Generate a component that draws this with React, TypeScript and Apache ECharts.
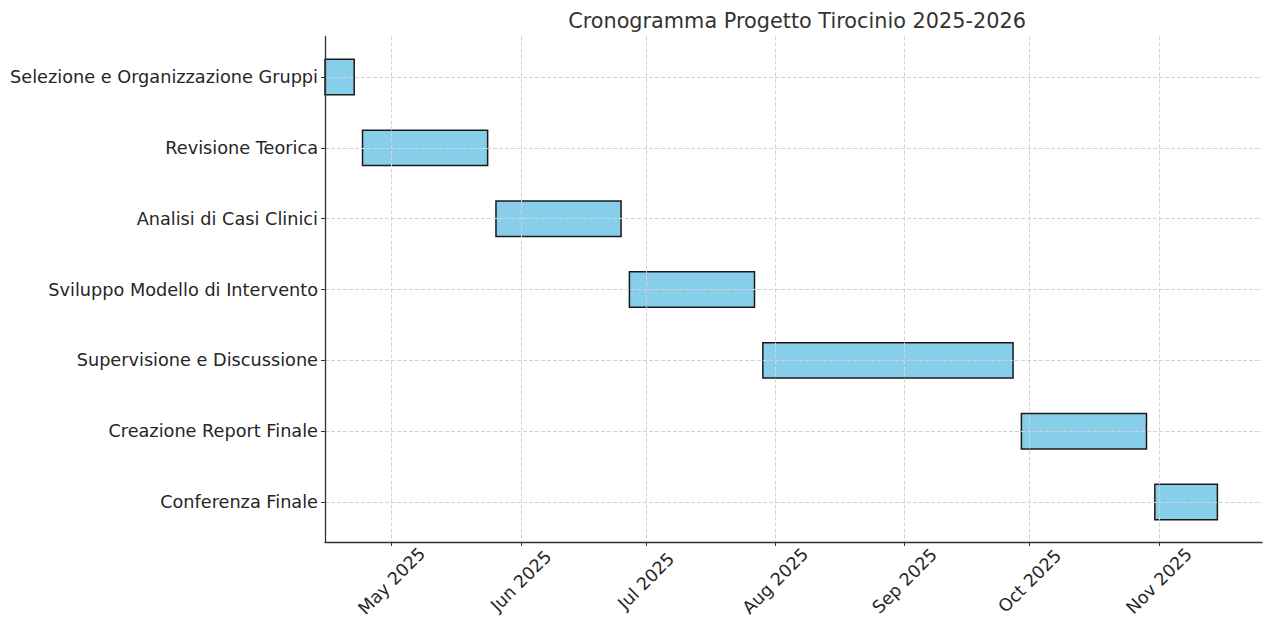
import React, { useEffect, useRef } from "react";
import * as echarts from "echarts";

const TASKS = [
  "Selezione e Organizzazione Gruppi",
  "Revisione Teorica",
  "Analisi di Casi Clinici",
  "Sviluppo Modello di Intervento",
  "Supervisione e Discussione",
  "Creazione Report Finale",
  "Conferenza Finale",
];
const STARTS = ["2025-04-15", "2025-04-24", "2025-05-26", "2025-06-27", "2025-07-29", "2025-09-29", "2025-10-31"];
const ENDS = ["2025-04-22", "2025-05-24", "2025-06-25", "2025-07-27", "2025-09-27", "2025-10-29", "2025-11-15"];
const MONTH_TICKS = ["2025-05-01", "2025-06-01", "2025-07-01", "2025-08-01", "2025-09-01", "2025-10-01", "2025-11-01"];
const MONTH_NAMES = ["Jan", "Feb", "Mar", "Apr", "May", "Jun", "Jul", "Aug", "Sep", "Oct", "Nov", "Dec"];
const TITLE = "Cronogramma Progetto Tirocinio 2025-2026";

const ts = (s: string) => {
  const [y, m, d] = s.split("-").map(Number);
  return Date.UTC(y, m - 1, d);
};

export default function App() {
  const ref = useRef<HTMLDivElement>(null);
  useEffect(() => {
    if (!ref.current) return;
    const chart = echarts.init(ref.current, null, { renderer: "svg" });
    const starts = STARTS.map(ts);
    const ends = ENDS.map(ts);
    const xMin = Math.min(...starts);
    const xMaxData = Math.max(...ends);
    const xMax = xMaxData + (xMaxData - xMin) * 0.05;
    const ticks = MONTH_TICKS.map(ts);
    const font = "DejaVu Sans";
    const textColor = "#262626";
    const spine = "#333333";
    const gridLine = { show: true, lineStyle: { color: "#d3d3d3", type: [4, 2] as any, width: 1 } };

    chart.setOption({
      animation: false,
      backgroundColor: "#ffffff",
      title: {
        text: TITLE,
        left: 792,
        top: 5,
        textAlign: "center",
        textStyle: { fontFamily: font, fontSize: 20.8, fontWeight: "normal", color: "#333333" },
      },
      grid: [
        { left: 325, right: 1, top: 36.5, bottom: 76, containLabel: false, outerBoundsMode: "none" },
        { left: 325, right: 1, top: 77, bottom: 116, containLabel: false, outerBoundsMode: "none" },
      ],
      xAxis: [
        {
          type: "value",
          gridIndex: 0,
          min: xMin,
          max: xMax,
          z: 5,
          axisLine: { show: true, lineStyle: { color: spine, width: 1.3 } },
          axisTick: { show: true, length: 4, lineStyle: { color: spine, width: 1 }, customValues: ticks },
          axisLabel: {
            customValues: ticks,
            rotate: 45,
            align: "center",
            verticalAlign: "middle",
            margin: 39,
            fontFamily: font,
            fontSize: 17.5,
            color: textColor,
            formatter: (v: number) => {
              const d = new Date(v);
              return MONTH_NAMES[d.getUTCMonth()] + " " + d.getUTCFullYear();
            },
          },
          splitLine: gridLine,
        },
        {
          type: "value",
          gridIndex: 1,
          min: xMin,
          max: xMax,
          show: false,
        },
      ],
      yAxis: [
        {
          type: "value",
          gridIndex: 0,
          min: 0,
          max: 1,
          z: 5,
          axisLine: { show: true, lineStyle: { color: spine, width: 1.3 } },
          axisTick: { show: false },
          axisLabel: { show: false },
          splitLine: { show: false },
        },
        {
          type: "category",
          gridIndex: 1,
          data: TASKS,
          inverse: true,
          boundaryGap: false,
          z: 5,
          axisLine: { show: false },
          axisTick: { show: true, length: 4, lineStyle: { color: spine, width: 1 } },
          axisLabel: { fontFamily: font, fontSize: 17.7, color: textColor, margin: 7 },
          splitLine: gridLine,
        },
      ],
      series: [
        {
          type: "custom",
          xAxisIndex: 1,
          yAxisIndex: 1,
          z: 2,
          encode: { x: [1, 2], y: 0 },
          data: TASKS.map((_, i) => [i, starts[i], ends[i]]),
          renderItem: (params: any, api: any) => {
            const cat = api.value(0);
            const s = api.coord([api.value(1), cat]);
            const e = api.coord([api.value(2), cat]);
            const h = api.size([0, 1])[1] * 0.5;
            return {
              type: "rect",
              shape: { x: s[0], y: s[1] - h / 2, width: e[0] - s[0], height: h },
              style: { fill: "#87CEEB", stroke: "#1a1a1a", lineWidth: 1.5 },
            };
          },
        },
      ],
    });
    return () => chart.dispose();
  }, []);
  return <div ref={ref} style={{ position: "fixed", left: 0, top: 0, width: 1263, height: 618 }} />;
}
